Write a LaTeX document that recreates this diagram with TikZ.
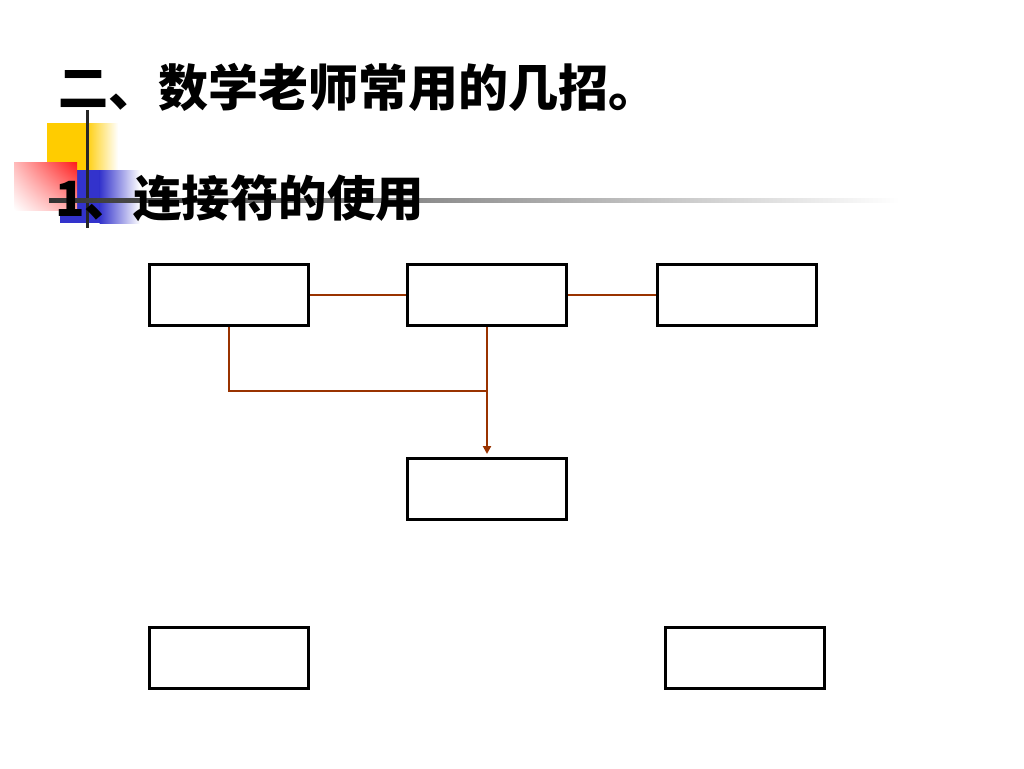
\documentclass[tikz,border=0pt]{standalone}
\usepackage{fontspec}
\newfontfamily\cjk{Noto Sans CJK SC}
\usetikzlibrary{arrows.meta,shadings}
\definecolor{conn}{HTML}{993300}
\definecolor{decoyellow}{HTML}{FFCC00}
\definecolor{decoblue}{HTML}{3333CC}
\definecolor{decored}{HTML}{FF1A1A}
\tikzset{
  box/.style={draw=black, line width=3pt, fill=white, rectangle, inner sep=0pt,
    minimum width=159pt, minimum height=61pt},
  connector/.style={draw=conn, line width=2pt},
  titletext/.style={inner sep=0pt, anchor=west, font=\cjk\bfseries\fontsize{50}{50}\selectfont},
  subtext/.style={inner sep=0pt, anchor=west, font=\cjk\bfseries\fontsize{48.5}{48.5}\selectfont},
}
\begin{document}
\begin{tikzpicture}[x=1pt,y=-1pt]
\useasboundingbox[fill=white] (0,0) rectangle (1024,768);
% decorations
\fill[decoyellow] (47,123) rectangle (86,190);
\shade[left color=decoyellow, right color=white] (85,123) rectangle (118,190);
\fill[decoblue] (60,170) rectangle (100,223);
\shade[left color=decoblue, right color=white] (99.5,170) rectangle (140,223);
\shade[upper right=decored, upper left=decored!30!white, lower right=decored!40!white, lower left=white] (14,162) rectangle (77,210);
\draw[line width=3pt, black!85] (87,110) -- (87,228);
\shade[left color=black!80, right color=white] (49,198.5) rectangle (900,202.5);
% texts
\node[titletext] (title) at (58,87) {二、数学老师常用的几招。};
\node[subtext] (sub) at (55,198) {1、连接符的使用};
% boxes
\node[box] (b1) at (229,295) {};
\node[box] (b2) at (487,295) {};
\node[box] (b3) at (737,295) {};
\node[box] (b4) at (487,489) {};
\node[box] (b5) at (229,658) {};
\node[box] (b6) at (745,658) {};
\coordinate (j) at (487,391);
% connectors
\draw[connector] (b1.east) -- (b2.west);
\draw[connector] (b2.east) -- (b3.west);
\draw[connector] (b1.south) |- (j);
\draw[connector, -{Triangle[width=8pt,length=8pt]}, shorten >=3pt] (b2.south) -- (b4.north);
\end{tikzpicture}
\end{document}
